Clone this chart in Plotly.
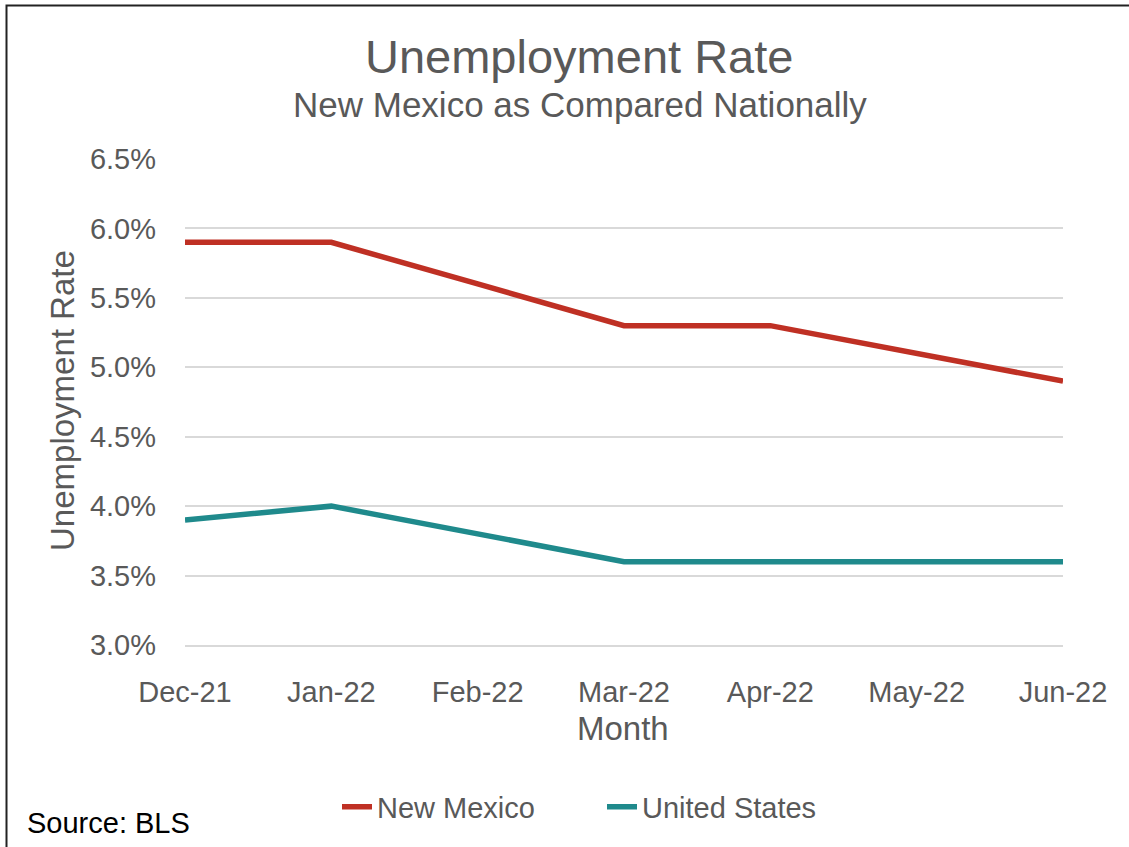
import plotly.graph_objects as go

months = ["Dec-21", "Jan-22", "Feb-22", "Mar-22", "Apr-22", "May-22", "Jun-22"]
new_mexico = [5.9, 5.9, 5.6, 5.3, 5.3, 5.1, 4.9]
united_states = [3.9, 4.0, 3.8, 3.6, 3.6, 3.6, 3.6]
y_ticks = [3.0, 3.5, 4.0, 4.5, 5.0, 5.5, 6.0, 6.5]
y_tick_labels = ["3.0%", "3.5%", "4.0%", "4.5%", "5.0%", "5.5%", "6.0%", "6.5%"]

W, H = 1129, 847
L, R, T, B = 185, 1063, 159, 645
PW, PH = R - L, B - T


def px(x):
    return (x - L) / PW


def py(y):
    return (B - y) / PH


FONT = "Liberation Sans, Arial, sans-serif"
GRAY = "#595959"

fig = go.Figure()
fig.add_trace(go.Scatter(x=months, y=new_mexico, mode="lines", name="New Mexico",
                         line=dict(color="#BF3024", width=5.5)))
fig.add_trace(go.Scatter(x=months, y=united_states, mode="lines", name="United States",
                         line=dict(color="#1F8A8C", width=5.5)))

fig.update_layout(
    width=W, height=H,
    margin=dict(l=L, r=W - R, t=T, b=H - B, autoexpand=False),
    paper_bgcolor="white", plot_bgcolor="white",
    font=dict(family=FONT, color=GRAY, size=29),
    showlegend=True,
    legend=dict(orientation="h", x=px(337), xanchor="left", y=py(807), yanchor="middle",
                font=dict(size=29, color=GRAY), itemwidth=30, traceorder="normal",
                entrywidth=220, entrywidthmode="pixels",
                bgcolor="rgba(0,0,0,0)"),
)
fig.update_xaxes(type="category", range=[0, 6], showgrid=False, showline=True,
                 linecolor="#D9D9D9", linewidth=1.5, ticks="", ticklabelstandoff=20,
                 tickfont=dict(size=29, color=GRAY), fixedrange=True, zeroline=False)
fig.update_yaxes(range=[3.0, 6.5], tickmode="array", tickvals=y_ticks, ticktext=y_tick_labels,
                 showgrid=True, gridcolor="#D9D9D9", gridwidth=1.5, zeroline=False,
                 ticks="", ticklabelstandoff=28, tickfont=dict(size=29, color=GRAY),
                 showline=False, fixedrange=True)

ann = [
    dict(text="Unemployment Rate", x=px(579), y=py(57), font=dict(size=47, color=GRAY)),
    dict(text="New Mexico as Compared Nationally", x=px(580), y=py(104), font=dict(size=35, color=GRAY)),
    dict(text="Month", x=px(623), y=py(729), font=dict(size=33, color=GRAY)),
    dict(text="Unemployment Rate", x=px(62), y=py(401), textangle=-90, font=dict(size=33, color=GRAY)),
]
for a in ann:
    fig.add_annotation(xref="paper", yref="paper", showarrow=False, xanchor="center",
                       yanchor="middle", **a)
fig.add_annotation(text="Source: BLS", xref="paper", yref="paper", x=px(25), y=py(823),
                   xanchor="left", yanchor="middle", showarrow=False,
                   font=dict(size=29, color="black"))

fig.add_shape(type="rect", xref="paper", yref="paper", x0=px(6.5), y0=py(900),
              x1=px(1200), y1=py(5.5), line=dict(color="#222222", width=2),
              fillcolor="rgba(0,0,0,0)", layer="above")

fig.write_html("out.html", config={"displayModeBar": False},
               post_script="document.body.style.margin='0';document.body.style.overflow='hidden';")
